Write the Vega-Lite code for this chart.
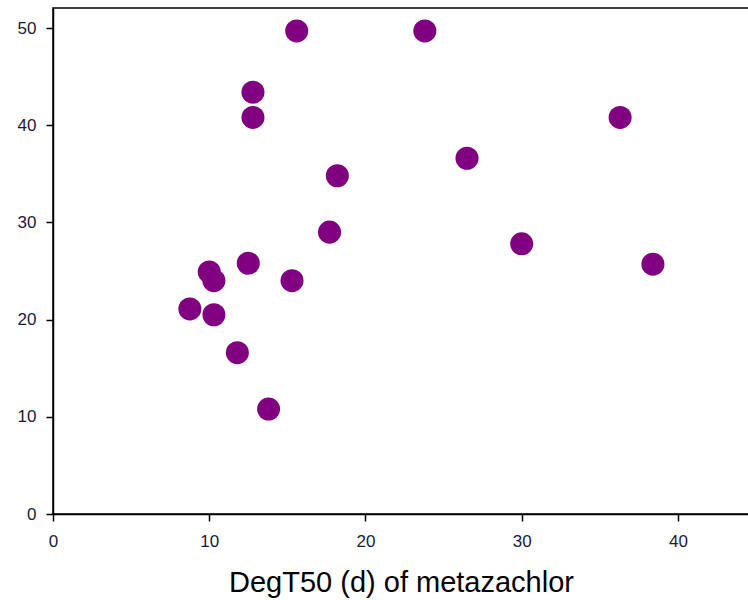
{
  "$schema": "https://vega.github.io/schema/vega-lite/v6.json",
  "width": 696,
  "height": 506,
  "autosize": {"type": "none"},
  "padding": {"left": 53, "top": 8, "right": 0, "bottom": 86},
  "background": "white",
  "config": {
    "view": {"stroke": "black", "strokeWidth": 1.5},
    "font": "Liberation Sans"
  },
  "data": {
    "values": [
      {"degt50": 8.76, "value": 21.1},
      {"degt50": 10.0, "value": 24.9},
      {"degt50": 10.3, "value": 24.0},
      {"degt50": 10.3, "value": 20.5},
      {"degt50": 11.8, "value": 16.6},
      {"degt50": 12.5, "value": 25.8},
      {"degt50": 12.8, "value": 43.4},
      {"degt50": 12.8, "value": 40.8},
      {"degt50": 13.8, "value": 10.8},
      {"degt50": 15.3, "value": 24.0},
      {"degt50": 15.6, "value": 49.7},
      {"degt50": 17.7, "value": 29.0},
      {"degt50": 18.2, "value": 34.8},
      {"degt50": 23.8, "value": 49.7},
      {"degt50": 26.5, "value": 36.6},
      {"degt50": 30.0, "value": 27.8},
      {"degt50": 36.3, "value": 40.8},
      {"degt50": 38.4, "value": 25.7}
    ]
  },
  "mark": {"type": "circle", "size": 530, "color": "#800080", "opacity": 1},
  "encoding": {
    "x": {
      "field": "degt50",
      "type": "quantitative",
      "scale": {"domain": [0, 44.55], "nice": false, "zero": false},
      "axis": {
        "values": [0, 10, 20, 30, 40],
        "grid": false,
        "labelFlush": false,
        "domainColor": "black",
        "domainWidth": 1.5,
        "tickColor": "black",
        "tickWidth": 1.5,
        "tickSize": 7,
        "labelFontSize": 17,
        "labelColor": "#1a1a3a",
        "labelPadding": 12,
        "title": "DegT50 (d) of metazachlor",
        "titleFontSize": 29,
        "titleFontWeight": "normal",
        "titleColor": "black",
        "titlePadding": 19
      }
    },
    "y": {
      "field": "value",
      "type": "quantitative",
      "scale": {"domain": [0, 52.06], "nice": false, "zero": false},
      "axis": {
        "values": [0, 10, 20, 30, 40, 50],
        "grid": false,
        "labelFlush": false,
        "domainColor": "black",
        "domainWidth": 1.5,
        "tickColor": "black",
        "tickWidth": 1.5,
        "tickSize": 7,
        "labelFontSize": 17,
        "labelColor": "#1a1a3a",
        "labelPadding": 10,
        "title": null
      }
    }
  }
}
